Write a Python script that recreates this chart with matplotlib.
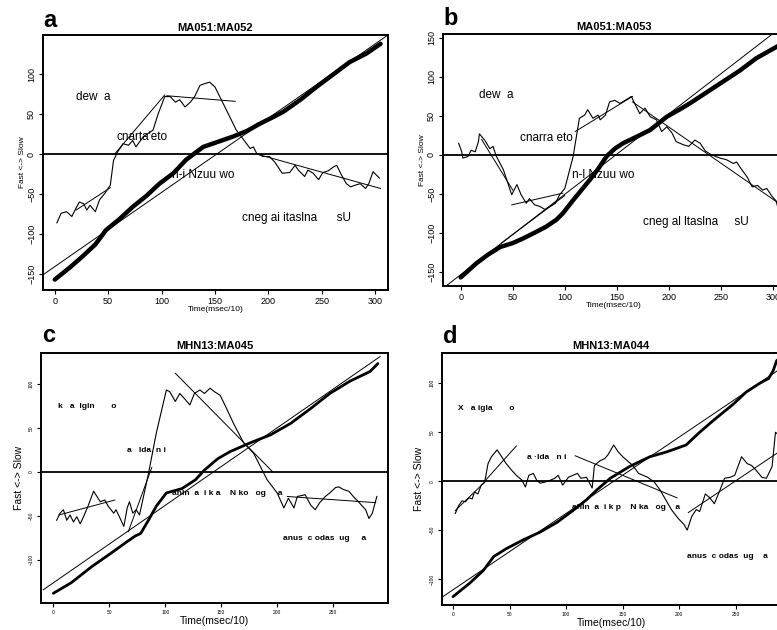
import matplotlib
matplotlib.use("Agg")
import matplotlib.pyplot as plt

plt.rcParams['font.family'] = ['Liberation Sans', 'DejaVu Sans']

# ---- panel a : MA051:MA052 ----
a_cum_x = [0, 14, 26, 38, 48, 60, 73, 86, 98, 111, 123, 132, 139, 152, 167, 180, 192, 204, 214, 230, 245, 260, 276, 292, 305]
a_cum_y = [-157, -142, -128, -113, -95, -82, -66, -52, -37, -24, -7, 2, 9, 15, 22, 29, 38, 46, 53, 68, 84, 99, 115, 126, 138]
a_ref = [(-11, -151), (312, 149)]
a_jag_x = [2, 6, 11, 16, 19, 23, 27, 30, 33, 38, 42, 47, 52, 55, 59, 64, 69, 73, 76, 83, 92, 97, 103, 108, 113, 117, 122, 127,
           131, 136, 140, 145, 150, 160, 170, 183, 186, 189, 195, 201, 206, 213, 220, 225, 228, 234, 237, 242, 247, 251, 256,
           261, 264, 268, 273, 277, 281, 286, 291, 294, 298, 301, 304]
a_jag_y = [-86, -74, -72, -78, -70, -60, -62, -70, -64, -72, -57, -49, -39, -8, 3, 13, 11, 17, 9, 22, 30, 51, 72, 72, 65, 68, 59, 65,
           72, 86, 88, 90, 84, 57, 30, 7, 9, 1, -3, -3, -10, -24, -23, -14, -20, -28, -20, -24, -32, -23, -21,
           -16, -14, -25, -37, -41, -39, -37, -43, -37, -22, -26, -30]
a_fits = [((20, -70), (52, -42)), ((56, 0), (103, 74)), ((105, 73), (169, 66)), ((192, -1), (305, -43))]
a_text = [(20, 71, "dew  a"), (58, 22, "cnarta'eto"), (110, -26, "n-i Nzuu wo"), (175, -80, "cneg ai itaslna      sU")]

# ---- panel b : MA051:MA053 ----
b_cum_x = [0, 15, 26, 38, 50, 60, 72, 82, 92, 98, 108, 116, 124, 132, 140, 148, 156, 170, 182, 198, 210, 220, 236, 252, 268, 284, 304, 315]
b_cum_y = [-157, -139, -128, -118, -113, -107, -99, -92, -83, -75, -58, -45, -32, -18, -2, 8, 15, 24, 32, 49, 58, 66, 80, 94, 108, 124, 139, 148]
b_ref = [(-17, -171), (312, 168)]
b_jag_x = [-2, 1, 2, 7, 10, 14, 17, 18, 23, 28, 31, 34, 41, 49, 54, 58, 63, 66, 71, 76, 81, 86, 91, 95, 100, 108, 114, 119, 122, 127,
           132, 134, 139, 143, 148, 153, 158, 164, 167, 172, 177, 182, 188, 193, 198, 203, 207, 214, 219, 225, 230, 235, 241,
           249, 255, 262, 265, 270, 275, 280, 285, 290, 294, 299, 303, 306, 310]
b_jag_y = [15, 4, -4, -2, 6, 4, 17, 27, 19, 8, 11, -1, -19, -51, -38, -51, -62, -56, -64, -66, -70, -66, -62, -51, -43, -2, 47, 51, 58, 47,
           51, 45, 51, 68, 70, 66, 70, 75, 66, 53, 60, 49, 45, 30, 36, 28, 17, 13, 11, 19, 15, 5, 0,
           -4, -6, -11, -9, -19, -28, -41, -39, -45, -43, -53, -59, -75, -88]
b_fits = [((39, -113), (100, -52)), ((20, 20), (50, -45)), ((49, -64), (98, -49)), ((110, 30), (165, 75)), ((165, 68), (312, -68))]
b_text = [(18, 77, "dew  a"), (57, 22, "cnarra eto"), (107, -26, "n-l Nzuu wo"), (175, -86, "cneg al ltaslna     sU")]

# ---- panel c : MHN13:MA045 ----
c_cum_x = [0, 16, 34, 52, 64, 73, 78, 85, 92, 101, 115, 127, 135, 147, 158, 176, 194, 212, 230, 247, 265, 283, 290]
c_cum_y = [-138, -126, -108, -92, -81, -73, -70, -55, -39, -24, -19, -9, 2, 15, 23, 33, 42, 55, 72, 89, 103, 114, 123]
c_ref = [(-9, -134), (292, 131)]
c_jag_x = [3, 6, 9, 12, 15, 18, 21, 24, 27, 31, 36, 39, 42, 46, 49, 54, 56, 59, 63, 66, 68, 71, 74, 77, 85, 92, 101, 104, 109, 113,
           118, 122, 126, 131, 135, 140, 144, 149, 154, 161, 170, 179, 191, 200, 206, 210, 215, 218, 225, 230, 234, 238,
           243, 247, 252, 255, 259, 264, 268, 274, 279, 282, 285, 289]
c_jag_y = [-55, -47, -43, -55, -49, -57, -51, -59, -51, -39, -22, -28, -34, -32, -39, -47, -43, -51, -62, -41, -34, -47, -43, -49, -2, 44, 93, 91, 80, 89,
           82, 76, 89, 93, 89, 95, 91, 87, 74, 55, 33, 21, -9, -24, -41, -30, -41, -28, -26, -38, -43, -35,
           -28, -24, -18, -17, -20, -22, -28, -36, -43, -53, -47, -28]
c_fits = [((5, -49), (55, -32)), ((67, -68), (88, 5)), ((109, 112), (196, 0)), ((209, -28), (288, -35))]
c_text = [(4, 74, "k   a  lgln       o"), (66, 24, "a   lda. n i"), (106, -25, "ahln  a  i k a    N ko   og     a"),
          (205, -76, "anus  c odas  ug     a")]

# ---- panel d : MHN13:MA044 ----
d_cum_x = [0, 15, 27, 36, 47, 62, 77, 92, 106, 118, 127, 139, 156, 174, 189, 206, 218, 230, 248, 259, 271, 279, 283, 286, 292]
d_cum_y = [-118, -104, -91, -77, -69, -60, -52, -42, -30, -19, -9, 3, 15, 25, 30, 37, 50, 62, 79, 91, 100, 105, 113, 123, 130]
d_ref = [(-9, -118), (292, 117)]
d_jag_x = [2, 5, 8, 11, 14, 17, 19, 22, 25, 28, 31, 34, 39, 43, 47, 52, 56, 61, 64, 67, 71, 74, 77, 81, 86, 90, 93, 97, 102, 106,
           110, 113, 118, 123, 125, 130, 134, 137, 142, 146, 150, 155, 159, 164, 168, 172, 178, 183, 189, 193, 199, 204,
           207, 211, 215, 218, 223, 227, 231, 236, 240, 245, 249, 255, 260, 264, 268, 273, 277, 282, 285, 288]
d_jag_y = [-33, -25, -20, -21, -17, -18, -11, -13, -4, -1, 18, 25, 32, 25, 18, 11, 6, 1, -6, 6, 8, 1, -2, -1, 1, 3, 6, -4, 4, 6,
           8, 3, 4, -7, 16, 21, 23, 27, 37, 30, 25, 20, 16, 8, 6, 4, -1, -9, -21, -29, -38, -44,
           -50, -36, -29, -31, -13, -17, -23, -9, 3, 4, 6, 25, 18, 16, 11, 4, 3, 15, 50, 47]
d_fits = [((2, -30), (28, -1)), ((28, 0), (56, 36)), ((108, 26), (198, -17)), ((208, -32), (292, 33))]
d_text = [(4, 74, "X   a igla       o"), (65, 24, "a ·lda   n i"), (105, -27, "ahln  a  i k p    N ka   og    a"),
          (207, -77, "anus  c odas  ug    a")]

fig = plt.figure(figsize=(7.77, 6.3), dpi=100)


def draw_panel(rect, letter, letter_pos, title, xlim, ylim, xticks, yticks,
               cum_x, cum_y, ref, jag_x, jag_y, fits, texts, small):
    ax = fig.add_axes(rect)
    ax.axhline(0, color='black', lw=1.3, zorder=1)
    (rx0, ry0), (rx1, ry1) = ref
    ax.plot([rx0, rx1], [ry0, ry1], color='black', lw=0.7)
    ax.plot(cum_x, cum_y, color='black', lw=2.0 if small else 3.2, solid_capstyle='round')
    ax.plot(jag_x, jag_y, color='black', lw=0.8)
    for (x0, y0), (x1, y1) in fits:
        ax.plot([x0, x1], [y0, y1], color='black', lw=0.7)
    tsize = 6 if small else 8.5
    for x, y, s in texts:
        ax.text(x, y, s, fontsize=tsize, fontweight='bold' if small else 'normal', va='center')
    ax.set_xlim(*xlim)
    ax.set_ylim(*ylim)
    ax.set_xticks(xticks)
    ax.set_yticks(yticks)
    for sp in ax.spines.values():
        sp.set_linewidth(1.4)
    lab = 3.5 if small else 6.5
    ax.tick_params(direction='out', length=3, width=0.8, labelsize=lab, pad=2)
    for t in ax.get_yticklabels():
        t.set_rotation(90)
        t.set_va('center')
    ax.set_title(title, fontsize=8, fontweight='bold', pad=3)
    ax.set_xlabel("Time(msec/10)", fontsize=7.5 if small else 6, labelpad=1 if small else 0)
    ax.set_ylabel("Fast <-> Slow", fontsize=7.5 if small else 6, labelpad=4 if small else 1)
    fig.text(letter_pos[0] / 777, 1 - letter_pos[1] / 630, letter, fontsize=17, fontweight='bold', va='baseline')
    return ax


draw_panel([43 / 777, 1 - 290 / 630, 345 / 777, 255 / 630], 'a', (43, 27), "MA051:MA052",
           (-11, 312), (-170, 149), range(0, 301, 50), range(-150, 101, 50),
           a_cum_x, a_cum_y, a_ref, a_jag_x, a_jag_y, a_fits, a_text, False)
draw_panel([443 / 777, 1 - 286 / 630, 342 / 777, 252 / 630], 'b', (443, 25), "MA051:MA053",
           (-17, 311.5), (-168, 155), range(0, 301, 50), range(-150, 151, 50),
           b_cum_x, b_cum_y, b_ref, b_jag_x, b_jag_y, b_fits, b_text, False)
draw_panel([41 / 777, 1 - 603 / 630, 347 / 777, 250 / 630], 'c', (42, 342), "MHN13:MA045",
           (-11, 299), (-149, 135), range(0, 251, 50), range(-100, 101, 50),
           c_cum_x, c_cum_y, c_ref, c_jag_x, c_jag_y, c_fits, c_text, True)
draw_panel([442 / 777, 1 - 605 / 630, 338 / 777, 252 / 630], 'd', (443, 343), "MHN13:MA044",
           (-9.7, 289), (-126.5, 131), range(0, 251, 50), range(-100, 101, 50),
           d_cum_x, d_cum_y, d_ref, d_jag_x, d_jag_y, d_fits, d_text, True)

fig.savefig("out.png", dpi=100)
